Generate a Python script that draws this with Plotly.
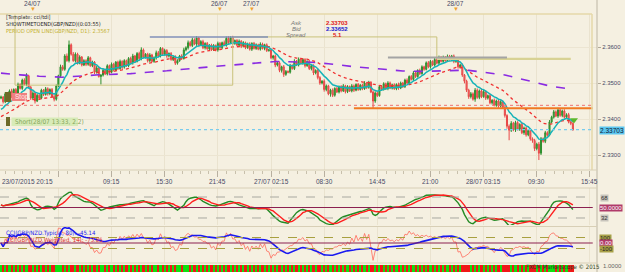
import plotly.graph_objects as go

W, H = 625, 272

# ---------------- data ----------------
first_open = 2.3458
closes = [
    2.3461, 2.3448, 2.3470, 2.3456, 2.3478, 2.3462, 2.3482, 2.3470, 2.3496, 2.3485,
    2.3508, 2.3496, 2.3520, 2.3488, 2.3458, 2.3472, 2.3450, 2.3466, 2.3458, 2.3480,
    2.3468, 2.3484, 2.3470, 2.3482, 2.3462, 2.3455, 2.3492, 2.3520, 2.3545, 2.3538,
    2.3575, 2.3562, 2.3606, 2.3580, 2.3562, 2.3580, 2.3555, 2.3572, 2.3550, 2.3562,
    2.3552, 2.3570, 2.3548, 2.3558, 2.3530, 2.3542, 2.3518, 2.3522, 2.3535, 2.3525,
    2.3548, 2.3530, 2.3552, 2.3536, 2.3558, 2.3540, 2.3560, 2.3544, 2.3562, 2.3548,
    2.3568, 2.3556, 2.3575, 2.3560, 2.3582, 2.3568, 2.3592, 2.3572, 2.3580, 2.3562,
    2.3578, 2.3560, 2.3570, 2.3584, 2.3575, 2.3596, 2.3580, 2.3590, 2.3575, 2.3582,
    2.3565, 2.3572, 2.3555, 2.3562, 2.3575, 2.3568, 2.3592, 2.3598, 2.3612, 2.3604,
    2.3620, 2.3608, 2.3625, 2.3606, 2.3615, 2.3598, 2.3610, 2.3595, 2.3605, 2.3592,
    2.3604, 2.3592, 2.3610, 2.3598, 2.3612, 2.3605, 2.3624, 2.3612, 2.3626, 2.3610,
    2.3618, 2.3605, 2.3616, 2.3602, 2.3612, 2.3598, 2.3608, 2.3594, 2.3610, 2.3596,
    2.3606, 2.3594, 2.3608, 2.3596, 2.3606, 2.3590, 2.3592, 2.3570, 2.3575, 2.3550,
    2.3556, 2.3535, 2.3545, 2.3524, 2.3532, 2.3530, 2.3548, 2.3540, 2.3560, 2.3550,
    2.3566, 2.3555, 2.3565, 2.3548, 2.3560, 2.3540, 2.3548, 2.3528, 2.3535, 2.3515,
    2.3500, 2.3505, 2.3482, 2.3492, 2.3470, 2.3480, 2.3466, 2.3485, 2.3475, 2.3490,
    2.3478, 2.3492, 2.3476, 2.3490, 2.3478, 2.3492, 2.3480, 2.3496, 2.3482, 2.3494,
    2.3484, 2.3500, 2.3488, 2.3502, 2.3475, 2.3450, 2.3472, 2.3465, 2.3490, 2.3482,
    2.3498, 2.3485, 2.3500, 2.3486, 2.3495, 2.3484, 2.3496, 2.3486, 2.3500, 2.3490,
    2.3508, 2.3500, 2.3518, 2.3510, 2.3528, 2.3518, 2.3535, 2.3526, 2.3545, 2.3538,
    2.3556, 2.3545, 2.3560, 2.3550, 2.3565, 2.3555, 2.3570, 2.3560, 2.3572, 2.3562,
    2.3574, 2.3565, 2.3575, 2.3560, 2.3566, 2.3545, 2.3550, 2.3522, 2.3505, 2.3480,
    2.3462, 2.3470, 2.3455, 2.3480, 2.3460, 2.3478, 2.3462, 2.3476, 2.3458, 2.3465,
    2.3445, 2.3452, 2.3438, 2.3450, 2.3436, 2.3448, 2.3432, 2.3410, 2.3380, 2.3369,
    2.3388, 2.3370, 2.3390, 2.3372, 2.3385, 2.3362, 2.3375, 2.3356, 2.3368, 2.3345,
    2.3340, 2.3318, 2.3330, 2.3305, 2.3345, 2.3338, 2.3362, 2.3355, 2.3392, 2.3405,
    2.3420, 2.3408, 2.3425, 2.3410, 2.3422, 2.3405, 2.3412, 2.3392, 2.3388, 2.33703,
]
hi_wick = [  # pips above body
    4, 3, 5, 3, 4, 6, 3, 4, 5, 3,  4, 5, 7, 3, 4, 5, 3, 4, 3, 4,
    3, 5, 4, 3, 4, 5, 4, 3, 6, 5,  5, 7, 12, 4, 6, 5, 4, 5, 3, 4,
    4, 5, 3, 4, 3, 5, 4, 3, 4, 5,  4, 3, 5, 4, 3, 4, 5, 3, 4, 3,
    4, 5, 6, 3, 4, 5, 7, 4, 3, 4,  5, 3, 4, 6, 5, 4, 3, 5, 4, 3,
    4, 3, 5, 4, 3, 5, 6, 4, 6, 5,  6, 4, 5, 3, 4, 5, 3, 4, 3, 4,
    4, 3, 5, 4, 3, 6, 5, 6, 4, 5,  3, 4, 5, 3, 4, 3, 4, 5, 3, 4,
    4, 3, 5, 4, 3, 4, 3, 4, 3, 4,  3, 4, 3, 5, 4, 3, 5, 4, 6, 4,
    5, 4, 3, 4, 3, 4, 3, 4, 3, 4,  4, 3, 5, 4, 3, 4, 5, 3, 4, 3,
    4, 5, 3, 4, 3, 5, 4, 3, 4, 3,  4, 5, 3, 4, 3, 4, 5, 4, 3, 4,
    4, 3, 5, 4, 3, 4, 3, 5, 4, 3,  4, 5, 3, 4, 5, 4, 3, 5, 4, 3,
    4, 5, 4, 3, 5, 4, 6, 5, 4, 3,  5, 4, 3, 4, 3, 4, 3, 4, 3, 4,
    4, 5, 4, 6, 5, 4, 7, 5, 4, 3,  4, 3, 5, 4, 3, 4, 3, 4, 3, 5,
    6, 4, 5, 4, 3, 5, 4, 3, 4, 3,  4, 5, 4, 6, 5, 4, 5, 4, 5, 4,
    5, 4, 6, 5, 4, 5, 4, 5, 4, 3,
]
lo_wick = [  # pips below body
    3, 5, 4, 3, 5, 4, 3, 5, 4, 3,  4, 3, 5, 4, 5, 4, 7, 3, 4, 3,
    4, 3, 5, 4, 3, 6, 4, 3, 5, 4,  4, 3, 5, 4, 3, 5, 4, 3, 4, 3,
    5, 4, 3, 4, 5, 4, 3, 22, 4, 3,  4, 5, 3, 4, 3, 4, 3, 5, 4, 3,
    4, 3, 5, 4, 3, 4, 5, 3, 4, 5,  4, 3, 4, 5, 3, 4, 3, 4, 5, 4,
    3, 4, 5, 4, 3, 4, 3, 4, 5, 3,  4, 3, 5, 4, 3, 4, 5, 3, 4, 3,
    3, 4, 5, 3, 4, 3, 4, 5, 3, 4,  4, 3, 4, 5, 3, 4, 3, 4, 5, 3,
    4, 3, 4, 3, 5, 4, 3, 4, 5, 6,  4, 5, 6, 7, 4, 3, 4, 3, 4, 3,
    4, 3, 4, 5, 3, 4, 5, 6, 4, 5,  5, 4, 6, 5, 4, 8, 5, 4, 3, 4,
    4, 3, 5, 4, 3, 4, 5, 3, 4, 3,  4, 3, 5, 4, 3, 20, 5, 4, 3, 4,
    3, 4, 5, 3, 4, 3, 4, 5, 3, 4,  4, 3, 4, 3, 5, 4, 3, 4, 3, 4,
    3, 4, 5, 3, 4, 3, 4, 3, 4, 3,  4, 3, 4, 5, 4, 5, 4, 5, 6, 5,
    6, 5, 4, 7, 4, 5, 4, 3, 5, 4,  4, 5, 3, 4, 5, 4, 3, 6, 7, 28,
    5, 4, 6, 4, 5, 4, 6, 5, 4, 5,  6, 7, 5, 19, 5, 4, 5, 4, 3, 4,
    4, 3, 5, 4, 5, 4, 5, 4, 5, 3,
]
PIP = 0.0001

ema_fast_period, ema_fast_seed = 10, 2.3419
ema_mid_period, ema_mid_seed = 30, 2.3403
ema_slow_period, ema_slow_seed = 200, 2.3528
rsi_period, rsi_seed_gain, rsi_seed_loss, rsi_price_ema = 13, 0.00060, 0.00050, 2
cci_slow_period, cci_fast_period, cci_price_smooth = 80, 14, 3

# price levels
ask_price, bid_price, spread = "2.33703", "2.33652", "5.1"
bid_line = 2.33703
stop_dotted_level = 2.3438
orange_level, orange_start_bar = 2.3430, 166
slate_level, slate_bars = 2.3628, (70, 125.6)
gray_level, gray_bars = 2.3571, (182, 238)
period_open_x = [6.6, 6.6, 109, 109, 205, 205]
period_open_y = [2.3692, 2.3494, 2.3494, 2.3628, 2.3628, 2.3567]
period_open_last = ([205, 268], [2.3567, 2.3567])

price_ticks = [2.33, 2.34, 2.35, 2.36]
time_tick_bars = [0, 52, 77, 102, 127, 152, 177, 202, 227, 252, 277]
time_tick_labels = ["23/07/2015 20:15", "09:15", "15:30", "21:45", "27/07 02:15",
                    "08:30", "14:45", "21:00", "28/07 03:15", "09:30", "15:45"]
grid_bars = [27, 52, 77, 102, 127, 152, 177, 202, 227, 252, 277]
day_bars = [15, 103, 118, 214]
day_labels = ["24/07", "26/07", "27/07", "28/07"]
tdi_levels = [32, 50, 68]
cci_levels = [-100, 0, 100]

# ---------------- derived series ----------------
n = len(closes)
bars = list(range(n))
opens = [first_open] + closes[:-1]
highs = [max(o, c) + h * PIP for o, c, h in zip(opens, closes, hi_wick)]
lows = [min(o, c) - l * PIP for o, c, l in zip(opens, closes, lo_wick)]


def ema(vals, period, seed):
    a = 2.0 / (period + 1)
    out, e = [], seed
    for v in vals:
        e = e + a * (v - e)
        out.append(e)
    return out


def sma(vals, k):
    out = []
    for i in range(len(vals)):
        w = vals[max(0, i - k + 1):i + 1]
        out.append(sum(w) / len(w))
    return out


def rsi(vals, period, g0, l0):
    ag, al, prev, out = g0, l0, vals[0], []
    for v in vals:
        d = v - prev
        prev = v
        ag = (ag * (period - 1) + max(d, 0)) / period
        al = (al * (period - 1) + max(-d, 0)) / period
        out.append(100 - 100 / (1 + ag / al) if al > 0 else 100)
    return out


def cci(tp, period):
    out = []
    for i in range(len(tp)):
        w = tp[max(0, i - period + 1):i + 1]
        m = sum(w) / len(w)
        md = sum(abs(x - m) for x in w) / len(w)
        out.append((tp[i] - m) / (0.015 * md) if md > 0 else 0)
    return out


ema_fast = ema(closes, ema_fast_period, ema_fast_seed)
ema_mid = ema(closes, ema_mid_period, ema_mid_seed)
ema_slow = ema(closes, ema_slow_period, ema_slow_seed)
r = rsi(ema(closes, rsi_price_ema, first_open), rsi_period, rsi_seed_gain, rsi_seed_loss)
tdi_green = sma(r, 2)
tdi_red = sma(r, 7)
typical = [(h + l + c) / 3 for h, l, c in zip(highs, lows, closes)]
weighted = [(h + l + 2 * c) / 4 for h, l, c in zip(highs, lows, closes)]
cci_blue = cci(sma(typical, cci_price_smooth), cci_slow_period)
cci_red = cci(weighted, cci_fast_period)
strip_colors = ["#11E011" if c >= o else "#F01818" for o, c in zip(opens, closes)]

# ---------------- geometry ----------------
PLOT_W = 597
BAR_PX = 2.126
X0_PX = 1
xr = [-X0_PX / BAR_PX, (PLOT_W - X0_PX) / BAR_PX]
xdom = [0, PLOT_W / W]


def py(ypx):
    return 1 - ypx / H


def pxp(xpx):
    return xpx / W


def price_at(ypx):
    return 2.36 - (ypx - 47) / 3600.0


BG = "#F5F0E1"
FONT = "Liberation Sans"
NARROW = "Liberation Sans Narrow, DejaVu Sans Condensed, Liberation Sans"
AXC = "#4A4A66"

fig = go.Figure()

fig.add_trace(go.Candlestick(
    x=bars, open=opens, high=highs, low=lows, close=closes,
    increasing=dict(line=dict(color="#2E8F2E", width=1), fillcolor="#45A845"),
    decreasing=dict(line=dict(color="#E84848", width=1), fillcolor="#F47272"),
    whiskerwidth=0, hoverinfo="skip", showlegend=False, xaxis="x", yaxis="y"))

fig.add_trace(go.Scatter(x=bars, y=ema_slow, mode="lines", xaxis="x", yaxis="y",
                         line=dict(color="#8A2BE2", width=1.6, dash="dash"), showlegend=False, hoverinfo="skip"))
fig.add_trace(go.Scatter(x=bars, y=ema_mid, mode="lines", xaxis="x", yaxis="y",
                         line=dict(color="#F03030", width=1.3, dash="dot"), showlegend=False, hoverinfo="skip"))
fig.add_trace(go.Scatter(x=bars, y=ema_fast, mode="lines", xaxis="x", yaxis="y",
                         line=dict(color="#16B3B8", width=1.5), showlegend=False, hoverinfo="skip"))
fig.add_trace(go.Scatter(x=period_open_x, y=period_open_y, mode="lines", xaxis="x", yaxis="y",
                         line=dict(color="#C9C27A", width=1), showlegend=False, hoverinfo="skip"))
fig.add_trace(go.Scatter(x=period_open_last[0], y=period_open_last[1], mode="lines", xaxis="x", yaxis="y",
                         line=dict(color="#D8D294", width=2.2), showlegend=False, hoverinfo="skip"))
fig.add_trace(go.Scatter(x=list(slate_bars), y=[slate_level] * 2, mode="lines", xaxis="x", yaxis="y",
                         line=dict(color="#8090B8", width=1.5), showlegend=False, hoverinfo="skip"))
fig.add_trace(go.Scatter(x=list(gray_bars), y=[gray_level] * 2, mode="lines", xaxis="x", yaxis="y",
                         line=dict(color="#A4A4A4", width=2), showlegend=False, hoverinfo="skip"))
fig.add_trace(go.Scatter(x=[bars[-1] + 0.5], y=[highs[-1] + 6 * PIP], mode="markers", xaxis="x", yaxis="y",
                         marker=dict(symbol="triangle-down", color="#5CB82C", size=7), showlegend=False, hoverinfo="skip"))

# TDI panel
fig.add_trace(go.Scatter(x=bars, y=tdi_green, mode="lines", xaxis="x2", yaxis="y2",
                         line=dict(color="#248A24", width=1.4), showlegend=False, hoverinfo="skip"))
fig.add_trace(go.Scatter(x=bars, y=tdi_red, mode="lines", xaxis="x2", yaxis="y2",
                         line=dict(color="#FF1E1E", width=1.4), showlegend=False, hoverinfo="skip"))
# CCI panel
fig.add_trace(go.Scatter(x=bars, y=cci_red, mode="lines", xaxis="x3", yaxis="y3",
                         line=dict(color="#FF6A5A", width=0.8), showlegend=False, hoverinfo="skip"))
fig.add_trace(go.Scatter(x=bars, y=cci_blue, mode="lines", xaxis="x3", yaxis="y3",
                         line=dict(color="#1A1AF0", width=1.6), showlegend=False, hoverinfo="skip"))
# bottom strip
fig.add_trace(go.Bar(x=bars, y=[1] * n, marker=dict(color=strip_colors, line=dict(width=0)), width=1,
                     xaxis="x4", yaxis="y4", showlegend=False, hoverinfo="skip"))

shapes = []
shapes.append(dict(type="line", xref="x", yref="y", x0=xr[0], x1=xr[1] - 2, y0=stop_dotted_level, y1=stop_dotted_level,
                   line=dict(color="#F07070", width=1, dash="dot")))
shapes.append(dict(type="line", xref="x", yref="y", x0=xr[0], x1=xr[1] - 2, y0=bid_line, y1=bid_line,
                   line=dict(color="#78CCEE", width=1.2, dash="dot")))
shapes.append(dict(type="line", xref="x", yref="y", x0=orange_start_bar, x1=xr[1] - 2, y0=orange_level, y1=orange_level,
                   line=dict(color="#F07A22", width=2)))
for lv in tdi_levels:
    if lv == 50:
        shapes.append(dict(type="line", xref="x2", yref="y2", x0=xr[0], x1=xr[1] - 2, y0=lv, y1=lv,
                           line=dict(color="#8B2050", width=1)))
    else:
        shapes.append(dict(type="line", xref="x2", yref="y2", x0=xr[0], x1=xr[1] - 2, y0=lv, y1=lv,
                           line=dict(color="#A8A8A0", width=1, dash="dash")))
for lv in cci_levels:
    if lv == 0:
        shapes.append(dict(type="line", xref="x3", yref="y3", x0=xr[0], x1=xr[1] - 2, y0=lv, y1=lv,
                           line=dict(color="#8B2050", width=1)))
    else:
        shapes.append(dict(type="line", xref="x3", yref="y3", x0=xr[0], x1=xr[1] - 2, y0=lv, y1=lv,
                           line=dict(color="#A8A040", width=1, dash="dash")))
FR = "#E4D8A8"
shapes.append(dict(type="line", xref="paper", yref="paper", x0=0, x1=pxp(592), y0=py(14), y1=py(14), line=dict(color=FR, width=1.5)))
shapes.append(dict(type="line", xref="paper", yref="paper", x0=pxp(592), x1=pxp(592), y0=py(14), y1=py(170), line=dict(color=FR, width=1.5)))
shapes.append(dict(type="line", xref="paper", yref="paper", x0=pxp(PLOT_W), x1=pxp(PLOT_W), y0=0, y1=1, line=dict(color="#BDB6A4", width=1)))
for ysep in [170, 188, 226.5, 263]:
    shapes.append(dict(type="line", xref="paper", yref="paper", x0=0, x1=pxp(PLOT_W), y0=py(ysep), y1=py(ysep),
                       line=dict(color="#D8CFB6", width=1)))
shapes.append(dict(type="rect", xref="paper", yref="paper", x0=pxp(5), x1=pxp(11), y0=py(102), y1=py(92),
                   fillcolor="#6E6A28", line=dict(width=0)))
shapes.append(dict(type="rect", xref="paper", yref="paper", x0=pxp(11.5), x1=pxp(27), y0=py(101), y1=py(93),
                   fillcolor="#F08080", line=dict(width=0)))
shapes.append(dict(type="rect", xref="paper", yref="paper", x0=pxp(6), x1=pxp(10), y0=py(126), y1=py(117),
                   fillcolor="#6E6A28", line=dict(width=0)))
shapes.append(dict(type="rect", xref="paper", yref="paper", x0=pxp(11.5), x1=pxp(78), y0=py(126), y1=py(117.5),
                   fillcolor="#D8EBB8", line=dict(width=0)))

ann = []


def txt(x, y, s, color="#333333", size=6.5, anchor="left", bold=False, italic=False, bg=None, xref="paper", family=FONT):
    t = s
    if bold:
        t = "<b>" + t + "</b>"
    if italic:
        t = "<i>" + t + "</i>"
    d = dict(x=x, y=y, xref=xref, yref="paper", text=t, showarrow=False, xanchor=anchor, yanchor="middle",
             font=dict(family=family, size=size, color=color))
    if bg:
        d.update(bgcolor=bg, borderpad=0)
    ann.append(d)


txt(pxp(4), py(17), "[Template: cci/tdi]", "#333333", 5.5, family=NARROW)
txt(pxp(4), py(24), "SHOWTIMETOEND(GBP/NZD)(0:03:55)", "#222222", 5.5, family=NARROW)
txt(pxp(4), py(31), "PERIOD OPEN LINE(GBP/NZD, D1): 2.3567", "#C4B030", 5.5, family=NARROW)
txt(pxp(296), py(22.5), "Ask", "#777777", 6, "center", italic=True)
txt(pxp(296), py(29), "Bid", "#777777", 6, "center", italic=True)
txt(pxp(296), py(35.5), "Spread", "#777777", 6, "center", italic=True)
txt(pxp(337), py(22.5), ask_price, "#E01818", 6, "center", bold=True)
txt(pxp(337), py(29), bid_price, "#1818D0", 6, "center", bold=True)
txt(pxp(337), py(35.5), spread, "#E01818", 6, "center", bold=True)
txt(pxp(13), py(97), "Stop", "#FFE8E8", 6.5)
txt(pxp(13), py(122), "Short(28/07 13:33, 2.2)", "#86A65A", 6.5, family=NARROW)
txt(pxp(4), py(232.5), "CCI(GBP/NZD.Typical, 80): -45.14", "#1A1AF0", 6, family=NARROW)
txt(pxp(4), py(239.5), "CCI(GBP/NZD.Weighted, 14): -73.85", "#E03030", 6, family=NARROW)

for b, lab in zip(time_tick_bars, time_tick_labels):
    if b == 0:
        txt(0, py(181.5), lab, AXC, 6.5, "left")
    else:
        txt(b, py(181.5), lab, AXC, 6.5, "center", xref="x")
for b, lab in zip(day_bars, day_labels):
    txt(b, py(4), lab, AXC, 6.5, "center", xref="x")
    txt(b, py(9.5), "▼", "#F0A030", 6, "center", xref="x")

txt(pxp(599), py(130), "2.33703", "#102030", 6.5, "left", bg="#5CC6F0")
txt(pxp(600), py(198), "68", "#333333", 6, "left", bg="#C8C4BC")
txt(pxp(599), py(207.5), "50.0000", "#FFFFFF", 6, "left", bg="#B03A6A")
txt(pxp(600), py(218), "32", "#333333", 6, "left", bg="#C8C4BC")
txt(pxp(599), py(237.5), "100", "#222222", 6, "left", bg="#A8A048")
txt(pxp(599), py(243), "0.00", "#FFFFFF", 6, "left", bg="#B03A6A")
txt(pxp(599), py(248.5), "-100", "#222222", 6, "left", bg="#A8A048")
txt(pxp(601), py(266), "1.0000", "#666666", 6, "left")
txt(pxp(524), py(266.5), "FXCM Marketscope © 2015", "#2E4420", 6, "left", family=NARROW)

tick_fmt = ["%.4f" % v for v in price_ticks]

axis_common = dict(range=xr, domain=xdom, showticklabels=False, zeroline=False,
                   tickvals=grid_bars, showgrid=True, gridcolor="#EAE3CF", gridwidth=1, fixedrange=True)

fig.update_layout(
    width=W, height=H, margin=dict(l=0, r=0, t=0, b=0),
    paper_bgcolor=BG, plot_bgcolor=BG, showlegend=False, bargap=0,
    font=dict(family=FONT, size=6.5, color=AXC),
    xaxis=dict(**axis_common, anchor="y", rangeslider=dict(visible=False), ticks="outside", ticklen=6,
               tickcolor="#B8B0A0", showline=False,
               minor=dict(tick0=2, dtick=25 / 6.0, ticks="outside", ticklen=3, tickcolor="#C8C0AC", showgrid=False)),
    xaxis2=dict(**axis_common, anchor="y2"),
    xaxis3=dict(**axis_common, anchor="y3"),
    xaxis4=dict(range=xr, domain=xdom, anchor="y4", showticklabels=False, showgrid=False, zeroline=False),
    yaxis=dict(domain=[py(170), py(14)], range=[price_at(170), price_at(14)], side="right", anchor="x",
               tickvals=price_ticks, ticktext=tick_fmt, ticks="outside", ticklen=3, tickcolor="#B0A898",
               tickfont=dict(size=6, color=AXC, family=FONT), showgrid=True, gridcolor="#ECE5D2", zeroline=False),
    yaxis2=dict(domain=[py(225), py(188)], range=[19.98, 83.45], anchor="x2", showticklabels=False,
                showgrid=False, zeroline=False),
    yaxis3=dict(domain=[py(262), py(227)], range=[-345.5, 290.9], anchor="x3", showticklabels=False,
                showgrid=False, zeroline=False),
    yaxis4=dict(domain=[0, py(265)], range=[0, 1], anchor="x4", showticklabels=False, showgrid=False, zeroline=False),
    shapes=shapes, annotations=ann,
)

fig.write_html("out.html")
